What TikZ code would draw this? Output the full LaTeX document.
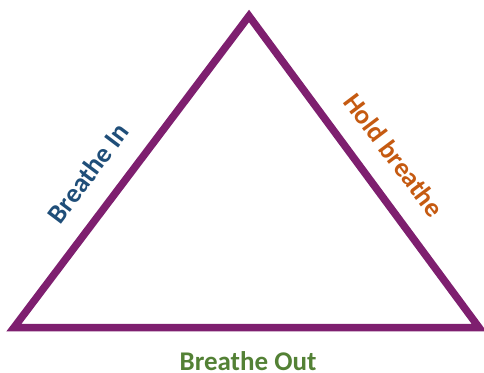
\documentclass[tikz,border=0pt]{standalone}
\usepackage{fontspec}
\setmainfont{Carlito}
\definecolor{tripurple}{RGB}{126,31,111}
\definecolor{inblue}{RGB}{31,78,121}
\definecolor{holdorange}{RGB}{197,90,17}
\definecolor{outgreen}{RGB}{83,129,53}
\tikzset{
  side/.style={draw=tripurple, line width=7.5pt, line join=miter, miter limit=10},
  lbl/.style={font=\bfseries\fontsize{27}{32}\selectfont, inner sep=0pt}
}
\begin{document}
\begin{tikzpicture}[x=1pt,y=-1pt]
\useasboundingbox (0,0) rectangle (484,372);
\coordinate (A) at (249,16);
\coordinate (B) at (14,327.5);
\coordinate (C) at (479,327.5);
\draw[side] (A) -- (B) -- (C) -- cycle;
\node[lbl, text=inblue, rotate=53] (in) at (88,173) {Breathe In};
\node[lbl, text=holdorange, rotate=-53] (hold) at (394,155) {Hold breathe};
\node[lbl, text=outgreen, anchor=base, text depth=0pt] (out) at (248,370.5) {Breathe Out};
\end{tikzpicture}
\end{document}
